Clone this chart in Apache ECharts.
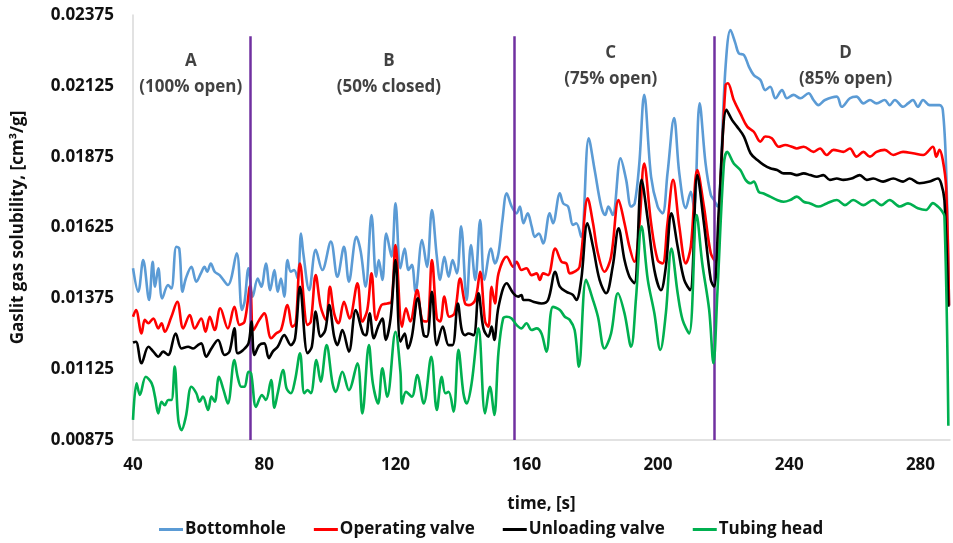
<!DOCTYPE html>
<html>
<head>
<meta charset="utf-8">
<script src="https://cdn.jsdelivr.net/npm/echarts@6/dist/echarts.min.js"></script>
<style>
html, body { margin: 0; padding: 0; background: #fff; }
#chart { width: 953px; height: 543px; }
</style>
</head>
<body>
<div id="chart"></div>
<script>
// [time s, solubility cm3/g]
const bottomhole = [
	[40.0,0.01481],[41.6,0.01398],[43.1,0.01510],[44.9,0.01369],[46.0,0.01504],[46.7,0.01416],[47.7,0.01481],[48.9,0.01375],
	[50.7,0.01422],[51.7,0.01410],[53.2,0.01557],[54.1,0.01551],[55.1,0.01398],[56.1,0.01445],[57.8,0.01486],[59.3,0.01434],
	[60.8,0.01466],[61.8,0.01486],[62.6,0.01469],[63.7,0.01498],[64.9,0.01469],[66.4,0.01457],[68.9,0.01422],[71.6,0.01534],
	[73.2,0.01334],[74.0,0.01363],[75.2,0.01481],[76.5,0.01381],[78.0,0.01445],[79.1,0.01416],[80.5,0.01498],[81.8,0.01404],
	[83.1,0.01475],[84.1,0.01398],[85.1,0.01445],[86.1,0.01381],[87.1,0.01510],[88.1,0.01469],[89.1,0.01475],[90.2,0.01445],
	[91.2,0.01604],[91.9,0.01534],[93.7,0.01404],[95.7,0.01546],[97.7,0.01475],[100.3,0.01575],[102.3,0.01451],[104.3,0.01557],
	[105.8,0.01434],[108.1,0.01592],[109.4,0.01540],[110.9,0.01416],[112.7,0.01669],[114.1,0.01451],[114.9,0.01510],[116.0,0.01440],
	[117.2,0.01604],[118.8,0.01522],[120.0,0.01710],[121.5,0.01481],[122.8,0.01551],[124.0,0.01475],[125.0,0.01493],[126.1,0.01398],
	[128.1,0.01581],[129.6,0.01486],[131.1,0.01687],[132.6,0.01522],[133.6,0.01440],[134.9,0.01522],[136.2,0.01451],[137.4,0.01510],
	[138.7,0.01463],[140.0,0.01629],[141.7,0.01369],[143.0,0.01563],[144.3,0.01440],[145.8,0.01651],[147.1,0.01440],[149.1,0.01551],
	[150.3,0.01498],[151.4,0.01534],[152.6,0.01651],[153.9,0.01746],[155.4,0.01699],[156.9,0.01675],[157.9,0.01699],[159.0,0.01640],
	[160.3,0.01675],[161.5,0.01629],[162.5,0.01592],[163.7,0.01604],[165.0,0.01569],[167.0,0.01675],[168.0,0.01640],[170.1,0.01746],
	[171.1,0.01710],[172.6,0.01699],[174.1,0.01634],[175.1,0.01640],[176.6,0.01592],[178.9,0.01940],[180.7,0.01828],[182.7,0.01699],
	[183.9,0.01669],[184.9,0.01699],[186.2,0.01669],[188.6,0.01869],[190.3,0.01793],[191.8,0.01699],[192.9,0.01710],[194.3,0.01850],
	[195.8,0.02093],[197.9,0.01804],[199.9,0.01699],[201.4,0.01675],[202.9,0.01816],[204.9,0.02011],[206.5,0.01816],[208.5,0.01693],
	[210.0,0.01751],[211.0,0.01693],[212.7,0.02063],[214.5,0.01851],[216.1,0.01740],[217.1,0.01722],[218.1,0.01699],[220.6,0.02193],
	[222.1,0.02322],[223.6,0.02275],[224.6,0.02240],[226.2,0.02234],[227.7,0.02193],[229.2,0.02163],[231.2,0.02146],[232.7,0.02110],
	[234.2,0.02122],[235.8,0.02081],[237.8,0.02110],[239.3,0.02081],[241.3,0.02093],[243.4,0.02081],[245.9,0.02099],[247.4,0.02075],
	[248.9,0.02057],[250.9,0.02075],[254.5,0.02087],[256.0,0.02051],[258.5,0.02081],[260.5,0.02087],[262.6,0.02063],[264.6,0.02075],
	[266.6,0.02063],[269.1,0.02075],[270.6,0.02057],[272.2,0.02075],[274.7,0.02051],[276.2,0.02063],[277.7,0.02075],[279.2,0.02051],
	[280.8,0.02075],[282.8,0.02057],[285.8,0.02057],[286.8,0.02040],[287.8,0.01840],[288.7,0.01350]
];

const operatingValve = [
	[40.0,0.01310],[40.9,0.01334],[42.6,0.01251],[43.6,0.01299],[44.7,0.01287],[46.2,0.01304],[47.7,0.01269],[48.7,0.01287],
	[49.7,0.01257],[51.7,0.01310],[53.5,0.01363],[55.3,0.01269],[57.3,0.01316],[58.8,0.01269],[60.8,0.01304],[62.1,0.01257],
	[63.4,0.01310],[64.9,0.01263],[66.6,0.01340],[68.9,0.01269],[70.9,0.01345],[72.5,0.01281],[74.0,0.01293],[75.7,0.01419],
	[76.7,0.01263],[78.5,0.01299],[80.0,0.01322],[82.1,0.01234],[83.6,0.01251],[85.1,0.01263],[87.1,0.01351],[88.6,0.01275],
	[89.6,0.01287],[90.9,0.01498],[93.2,0.01281],[94.2,0.01293],[95.7,0.01457],[97.2,0.01345],[98.8,0.01299],[100.0,0.01416],
	[101.3,0.01322],[102.6,0.01287],[104.3,0.01363],[106.0,0.01304],[108.4,0.01428],[109.9,0.01293],[111.4,0.01334],[112.7,0.01463],
	[114.1,0.01299],[115.7,0.01351],[117.5,0.01357],[118.8,0.01363],[120.0,0.01563],[122.0,0.01275],[123.2,0.01340],[124.5,0.01293],
	[126.6,0.01404],[128.1,0.01299],[129.6,0.01293],[131.1,0.01510],[132.6,0.01304],[133.6,0.01293],[134.9,0.01381],[136.4,0.01310],
	[138.0,0.01322],[139.7,0.01445],[141.2,0.01357],[142.4,0.01351],[144.3,0.01369],[145.8,0.01469],[147.3,0.01293],[148.3,0.01275],
	[149.3,0.01416],[150.3,0.01357],[151.4,0.01463],[153.9,0.01522],[155.9,0.01486],[156.9,0.01504],[158.4,0.01475],[159.9,0.01481],
	[161.5,0.01457],[163.0,0.01463],[164.0,0.01440],[165.0,0.01463],[166.5,0.01457],[168.7,0.01551],[170.6,0.01504],[172.1,0.01498],
	[173.1,0.01463],[174.6,0.01469],[176.1,0.01486],[178.6,0.01728],[180.2,0.01640],[181.7,0.01534],[183.7,0.01469],[185.7,0.01522],
	[188.0,0.01722],[189.8,0.01640],[191.3,0.01557],[192.8,0.01504],[194.3,0.01629],[195.8,0.01851],[197.9,0.01640],[199.9,0.01510],
	[201.4,0.01498],[202.9,0.01640],[204.6,0.01793],[206.5,0.01629],[208.5,0.01498],[210.0,0.01557],[212.0,0.01828],[214.0,0.01699],
	[216.1,0.01534],[217.6,0.01504],[219.1,0.01793],[220.6,0.02128],[221.3,0.02134],[223.1,0.02075],[225.1,0.02028],[227.2,0.01981],
	[229.2,0.01963],[231.2,0.01928],[232.7,0.01946],[234.7,0.01940],[236.8,0.01910],[238.8,0.01916],[240.8,0.01910],[242.3,0.01904],
	[244.4,0.01910],[247.4,0.01892],[249.4,0.01904],[251.4,0.01881],[253.5,0.01899],[256.5,0.01892],[258.5,0.01904],[260.5,0.01875],
	[262.6,0.01892],[264.6,0.01875],[266.6,0.01892],[269.1,0.01899],[271.7,0.01881],[274.7,0.01892],[277.7,0.01887],[280.8,0.01881],
	[283.8,0.01910],[284.8,0.01875],[285.8,0.01899],[286.8,0.01863],[287.8,0.01770],[288.7,0.01350]
];

const unloadingValve = [
	[40.0,0.01219],[40.9,0.01222],[42.6,0.01146],[44.7,0.01204],[46.2,0.01187],[47.7,0.01169],[49.2,0.01187],[50.7,0.01175],
	[53.0,0.01251],[54.8,0.01198],[56.8,0.01204],[58.3,0.01198],[59.8,0.01210],[60.8,0.01216],[62.3,0.01169],[63.9,0.01198],
	[65.9,0.01228],[67.9,0.01175],[69.4,0.01187],[70.9,0.01269],[71.9,0.01181],[73.5,0.01192],[75.2,0.01216],[76.1,0.01293],
	[77.0,0.01175],[78.5,0.01210],[80.0,0.01216],[81.4,0.01164],[82.6,0.01187],[84.1,0.01204],[86.1,0.01245],[88.1,0.01210],
	[89.4,0.01234],[90.9,0.01416],[93.2,0.01181],[94.5,0.01204],[95.7,0.01328],[97.2,0.01240],[98.6,0.01263],[99.8,0.01351],
	[101.3,0.01240],[102.3,0.01210],[103.8,0.01263],[105.8,0.01187],[107.9,0.01334],[110.1,0.01251],[111.0,0.01245],[112.1,0.01322],
	[113.4,0.01234],[114.7,0.01275],[116.0,0.01304],[117.0,0.01228],[118.5,0.01304],[120.0,0.01510],[121.5,0.01222],[122.8,0.01251],
	[123.8,0.01198],[125.0,0.01240],[126.8,0.01375],[128.6,0.01245],[129.6,0.01240],[131.1,0.01398],[132.6,0.01210],[134.4,0.01275],
	[136.2,0.01210],[137.4,0.01210],[139.0,0.01357],[140.2,0.01263],[141.2,0.01245],[142.2,0.01251],[143.8,0.01245],[145.3,0.01393],
	[146.8,0.01269],[148.3,0.01240],[149.3,0.01275],[150.1,0.01228],[151.4,0.01345],[153.9,0.01428],[155.9,0.01393],[157.4,0.01381],
	[158.4,0.01387],[159.0,0.01369],[160.5,0.01369],[162.0,0.01363],[164.5,0.01357],[166.5,0.01369],[168.7,0.01469],[170.1,0.01416],
	[172.1,0.01398],[174.1,0.01387],[175.1,0.01369],[176.6,0.01440],[178.5,0.01640],[180.2,0.01557],[182.2,0.01440],[184.2,0.01393],
	[186.2,0.01487],[188.0,0.01622],[189.8,0.01510],[191.3,0.01451],[192.8,0.01428],[195.0,0.01793],[196.9,0.01651],[198.9,0.01475],
	[200.9,0.01404],[202.4,0.01487],[204.1,0.01675],[206.0,0.01557],[208.0,0.01440],[209.8,0.01404],[212.0,0.01810],[214.0,0.01640],
	[216.1,0.01440],[217.1,0.01416],[218.6,0.01700],[220.9,0.02040],[222.6,0.02004],[224.1,0.01981],[226.2,0.01946],[228.2,0.01887],
	[230.3,0.01863],[232.2,0.01846],[234.2,0.01834],[236.3,0.01828],[238.3,0.01816],[240.3,0.01816],[242.3,0.01810],[244.4,0.01816],
	[246.4,0.01810],[248.4,0.01804],[250.4,0.01810],[252.4,0.01793],[254.5,0.01798],[256.5,0.01793],[259.0,0.01798],[261.5,0.01810],
	[263.6,0.01793],[265.6,0.01798],[268.6,0.01787],[271.7,0.01798],[274.7,0.01787],[276.7,0.01798],[279.7,0.01781],[282.8,0.01787],
	[285.3,0.01798],[286.3,0.01781],[287.3,0.01722],[288.5,0.01345]
];

const tubingHead = [
	[40.0,0.00946],[41.1,0.01075],[42.1,0.01034],[43.9,0.01098],[45.7,0.01075],[46.7,0.01028],[47.7,0.00969],[48.7,0.01010],
	[49.7,0.00998],[50.7,0.01016],[51.7,0.01016],[52.7,0.01134],[53.8,0.00946],[54.8,0.00910],[56.1,0.00957],[57.8,0.01063],
	[59.3,0.01040],[60.3,0.01010],[61.3,0.01028],[62.9,0.00981],[63.9,0.01028],[64.9,0.01010],[66.2,0.01098],[67.6,0.01051],
	[68.9,0.01004],[70.9,0.01157],[71.9,0.01098],[73.0,0.01063],[74.0,0.01063],[75.2,0.01116],[76.0,0.01110],[77.5,0.00992],
	[79.3,0.01034],[80.5,0.01016],[82.1,0.01087],[83.1,0.00989],[84.1,0.01040],[85.8,0.01122],[86.8,0.01057],[88.1,0.01040],
	[89.4,0.01087],[90.9,0.01181],[92.2,0.01040],[93.2,0.01051],[94.2,0.01040],[95.9,0.01157],[97.2,0.01081],[99.0,0.01210],
	[100.8,0.01075],[101.8,0.01045],[103.8,0.01116],[105.8,0.01051],[108.4,0.01146],[109.9,0.00969],[111.9,0.01210],[113.1,0.01075],
	[114.7,0.01004],[116.0,0.01128],[117.5,0.01028],[120.0,0.01257],[121.5,0.01116],[122.0,0.01004],[123.2,0.01045],[125.0,0.01028],
	[126.6,0.01104],[128.6,0.01004],[130.9,0.01169],[132.6,0.00981],[134.1,0.01098],[135.2,0.01040],[136.2,0.01045],[137.7,0.00975],
	[139.2,0.01193],[140.7,0.01040],[141.7,0.01004],[143.2,0.01075],[145.3,0.01269],[147.3,0.00969],[148.8,0.01063],[150.1,0.00963],
	[151.4,0.01187],[152.8,0.01304],[153.9,0.01310],[155.4,0.01304],[156.9,0.01281],[158.4,0.01269],[159.9,0.01287],[161.5,0.01263],
	[163.0,0.01269],[164.5,0.01251],[166.0,0.01187],[168.0,0.01345],[170.1,0.01334],[171.6,0.01310],[173.1,0.01299],[174.6,0.01263],
	[175.9,0.01134],[178.1,0.01440],[180.2,0.01369],[181.7,0.01310],[183.7,0.01198],[185.7,0.01251],[187.8,0.01393],[189.8,0.01322],
	[191.8,0.01204],[193.3,0.01375],[195.0,0.01629],[196.9,0.01440],[198.9,0.01322],[200.7,0.01193],[202.4,0.01322],[204.1,0.01551],
	[206.0,0.01393],[207.5,0.01299],[209.5,0.01251],[211.8,0.01669],[213.5,0.01498],[215.6,0.01334],[216.9,0.01146],[218.1,0.01393],
	[220.1,0.01851],[221.1,0.01892],[223.1,0.01851],[225.1,0.01828],[226.7,0.01793],[228.2,0.01781],[229.2,0.01787],[230.7,0.01751],
	[232.2,0.01745],[234.2,0.01734],[236.3,0.01722],[238.3,0.01716],[240.3,0.01722],[242.3,0.01734],[244.4,0.01716],[246.4,0.01710],
	[248.9,0.01699],[251.4,0.01710],[254.5,0.01722],[257.0,0.01704],[259.5,0.01722],[262.6,0.01704],[265.6,0.01722],[268.1,0.01704],
	[270.6,0.01722],[273.7,0.01699],[276.2,0.01710],[279.2,0.01693],[281.7,0.01687],[283.8,0.01711],[285.3,0.01699],[286.3,0.01687],
	[287.3,0.01664],[288.5,0.00925]
];

const seriesNames = ['Bottomhole', 'Operating valve', 'Unloading valve', 'Tubing head'];
const seriesColors = ['#5b9bd5', '#ff0000', '#000000', '#00b050'];

// stage dividers and their captions
const stageTimes = [75.6, 156.2, 217.1];
const stageTop = 0.0230;
const stageCaptions = ['A\n(100% open)', 'B\n(50% closed)', 'C\n(75% open)', 'D\n(85% open)'];
const captionTimes = [57.6, 118.0, 185.6, 257.2];
const captionValues = [0.02167, 0.02167, 0.02195, 0.02195];

const xMin = 40, xMax = 289, xStep = 40;
const yMin = 0.00875, yMax = 0.02375, yStep = 0.0025;

const font = '"Open Sans", Roboto, sans-serif';
const textStyle = { fontFamily: font, fontWeight: 'bold', fontSize: 17, color: '#111' };
const chart = echarts.init( document.getElementById( 'chart' ), null, { renderer: 'canvas' } );

const lineSeries = [ bottomhole, operatingValve, unloadingValve, tubingHead ].map( ( data, i ) => ( {
	name: seriesNames[ i ],
	type: 'line',
	data,
	smooth: 0.35,
	symbol: 'none',
	lineStyle: { color: seriesColors[ i ], width: 2.6 },
	itemStyle: { color: seriesColors[ i ] },
	z: 3 + i
} ) );

// purple dividers as mark lines on the first series
lineSeries[ 0 ].markLine = {
	silent: true,
	symbol: [ 'none', 'none' ],
	label: { show: false },
	lineStyle: { color: '#7030a0', width: 2.5, type: 'solid' },
	data: stageTimes.map( ( t ) => [
		{ coord: [ t, stageTop ] },
		{ coord: [ t, yMin ] }
	] )
};

const captionSeries = {
	name: 'captions',
	type: 'scatter',
	symbolSize: 1,
	itemStyle: { color: 'rgba(0,0,0,0)' },
	silent: true,
	z: 10,
	data: captionTimes.map( ( t, i ) => ( { value: [ t, captionValues[ i ] ], name: stageCaptions[ i ] } ) ),
	label: Object.assign( {}, textStyle, {
		show: true,
		position: 'inside',
		formatter: ( p ) => p.name,
		lineHeight: 26,
		align: 'center'
	} )
};

chart.setOption( {
	animation: false,
	backgroundColor: '#fff',
	grid: { left: 133, right: 0, top: 15, bottom: 103 },
	legend: {
		data: seriesNames.map( ( name ) => ( { name, icon: 'rect' } ) ),
		left: 154,
		bottom: 0,
		itemWidth: 24,
		itemHeight: 3,
		itemGap: 28,
		textStyle: Object.assign( {}, textStyle, { padding: [ 0, 0, 0, -3 ] } )
	},
	xAxis: {
		type: 'value',
		min: xMin,
		max: xMax,
		interval: xStep,
		name: 'time, [s]',
		nameLocation: 'middle',
		nameGap: 56,
		nameTextStyle: textStyle,
		axisLine: { lineStyle: { color: '#d9d9d9', width: 1.5 } },
		axisTick: { show: false },
		splitLine: { show: false },
		axisLabel: Object.assign( {}, textStyle, {
			margin: 17,
			formatter: ( v ) => ( v % xStep === 0 ? String( v ) : '' )
		} )
	},
	yAxis: {
		type: 'value',
		min: yMin,
		max: yMax,
		// half step so that ticks start at yMin; every other one is labelled
		interval: yStep / 2,
		name: 'Gaslit gas solubility, [cm³/g]',
		nameLocation: 'middle',
		nameRotate: 90,
		nameGap: 106,
		nameTextStyle: textStyle,
		axisLine: { show: true, lineStyle: { color: '#d9d9d9', width: 1.5 } },
		axisTick: { show: false },
		splitLine: { show: false },
		axisLabel: Object.assign( {}, textStyle, {
			margin: 19,
			formatter: ( v ) => {
				const k = Math.round( ( v - yMin ) / ( yStep / 2 ) );
				return k % 2 === 0 ? v.toFixed( 5 ) : '';
			}
		} )
	},
	series: [ ...lineSeries, captionSeries ]
} );
</script>
</body>
</html>
